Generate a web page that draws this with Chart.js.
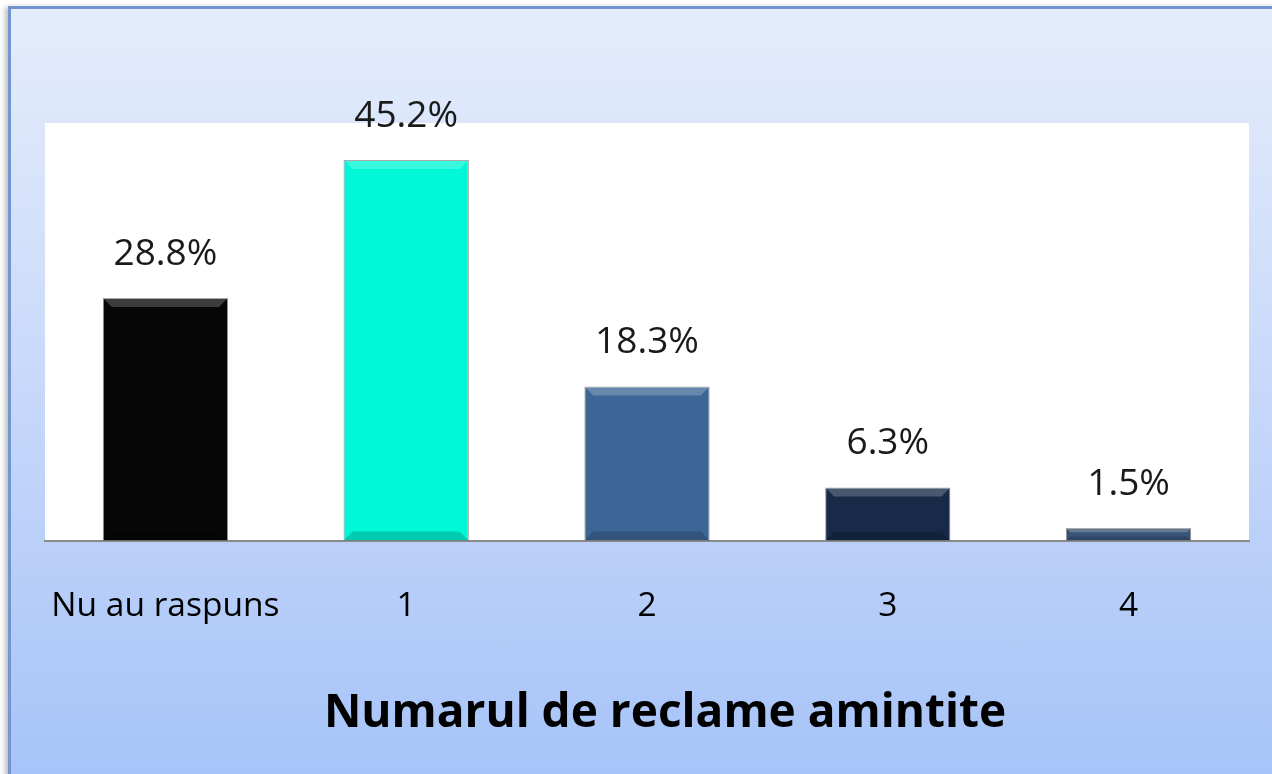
<!DOCTYPE html>
<html lang="ro">
<head>
    <meta charset="UTF-8">
    <title>Numarul de reclame amintite</title>
    <script src="https://cdn.jsdelivr.net/npm/chart.js"></script>
    <style>
        body {
            margin: 0;
            padding: 0;
            background: #ffffff;
            overflow: hidden;
            width: 1272px;
            height: 774px;
        }

        .frame {
            position: absolute;
            left: 8px;
            top: 6px;
            width: 1320px;
            height: 790px;
            border: 3px solid #7396d0;
            background: linear-gradient(to bottom, #e5edfc 0%, #dae5fb 18%, #b9cff9 70%, #a5c2f8 100%);
            box-shadow: -3px 1px 5px rgba(0, 0, 0, 0.25);
        }
    </style>
</head>
<body>
    <div class="frame">
        <canvas id="reclameChart"></canvas>
    </div>

    <script>
        // data
        const categories = ["Nu au raspuns", "1", "2", "3", "4"];
        const percentages = [28.8, 45.2, 18.3, 6.3, 1.5];
        const barColors = ["#060606", "#00f8d8", "#3d6696", "#172a47", "#3a5478"];
        const axisTitle = "Numarul de reclame amintite";

        const fontName = "'Open Sans', 'Noto Sans', sans-serif";

        // white plot area behind the bars
        const plotBackground = {
            id: "plotBackground",
            beforeDraw(chart) {
                const { ctx, chartArea } = chart;
                ctx.save();
                ctx.fillStyle = "#ffffff";
                ctx.fillRect(chartArea.left, chartArea.top, chartArea.right - chartArea.left, chartArea.bottom - chartArea.top);
                ctx.restore();
            }
        };

        // bevel look + value labels on top of the bars
        const barDecor = {
            id: "barDecor",
            afterDatasetsDraw(chart) {
                const { ctx } = chart;
                const meta = chart.getDatasetMeta(0);
                ctx.save();
                meta.data.forEach((bar, i) => {
                    const left = bar.x - bar.width / 2;
                    const right = bar.x + bar.width / 2;
                    const top = bar.y;
                    const bottom = bar.base;
                    const b = Math.min(9, (bottom - top) / 3);

                    // top bevel
                    ctx.fillStyle = "rgba(255,255,255,0.22)";
                    ctx.beginPath();
                    ctx.moveTo(left, top);
                    ctx.lineTo(right, top);
                    ctx.lineTo(right - b, top + b);
                    ctx.lineTo(left + b, top + b);
                    ctx.closePath();
                    ctx.fill();

                    // bottom bevel
                    ctx.fillStyle = "rgba(0,0,0,0.18)";
                    ctx.beginPath();
                    ctx.moveTo(left, bottom);
                    ctx.lineTo(right, bottom);
                    ctx.lineTo(right - b, bottom - b);
                    ctx.lineTo(left + b, bottom - b);
                    ctx.closePath();
                    ctx.fill();

                    // value label
                    ctx.fillStyle = "#1a1a1a";
                    ctx.font = "37px " + fontName;
                    ctx.textAlign = "center";
                    ctx.textBaseline = "middle";
                    ctx.fillText(percentages[i].toFixed(1) + "%", bar.x, top - 44);
                });
                ctx.restore();
            }
        };

        const ctx = document.getElementById("reclameChart").getContext("2d");
        const reclameChart = new Chart(ctx, {
            type: "bar",
            data: {
                labels: categories,
                datasets: [{
                    data: percentages,
                    backgroundColor: barColors,
                    borderColor: "rgba(60,60,60,0.55)",
                    borderWidth: 1,
                    barPercentage: 1.0,
                    categoryPercentage: 0.52
                }]
            },
            options: {
                responsive: true,
                maintainAspectRatio: false,
                animation: false,
                layout: {
                    padding: { left: 34, right: 46, top: 114, bottom: 58 }
                },
                plugins: {
                    legend: { display: false },
                    tooltip: { enabled: false },
                    title: {
                        display: true,
                        position: "bottom",
                        text: axisTitle,
                        color: "#000000",
                        font: { family: fontName, size: 46, weight: "bold" },
                        padding: { top: 13, bottom: 0 }
                    }
                },
                scales: {
                    x: {
                        grid: { display: false, drawTicks: false },
                        border: { display: true, color: "#8a8a8a", width: 2 },
                        ticks: {
                            color: "#000000",
                            padding: 46,
                            font: { family: fontName, size: 33.5 }
                        },
                        afterFit(scale) {
                            // the long first label should not push the plot area right
                            scale.paddingLeft = 0;
                            scale.paddingRight = 0;
                        }
                    },
                    y: {
                        position: "right",
                        min: 0,
                        max: 49.6,
                        grid: { display: false, drawTicks: false },
                        border: { display: false },
                        ticks: { display: false },
                        afterFit(scale) {
                            scale.width = 36;
                        }
                    }
                }
            },
            plugins: [plotBackground, barDecor]
        });
    </script>
</body>
</html>
